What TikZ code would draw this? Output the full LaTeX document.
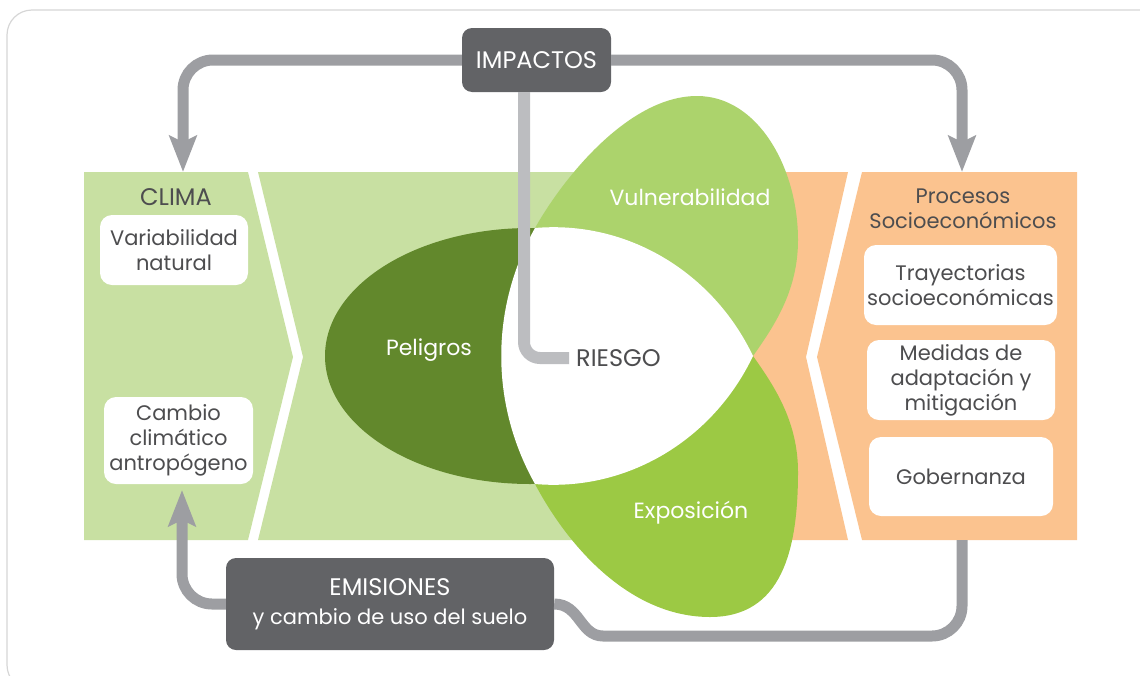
\documentclass[tikz,border=0pt]{standalone}
\usepackage{fontspec}
\setmainfont{Poppins}
\usetikzlibrary{arrows.meta}

\definecolor{climagreen}{HTML}{C8E0A2}
\definecolor{peligrogreen}{HTML}{62882C}
\definecolor{vulngreen}{HTML}{ACD36C}
\definecolor{expogreen}{HTML}{9CC944}
\definecolor{socioorange}{HTML}{FBC38F}
\definecolor{boxgray}{HTML}{626366}
\definecolor{linkgray}{HTML}{9D9EA2}
\definecolor{riskgray}{HTML}{BCBDC0}
\definecolor{txtgray}{HTML}{4D4D4F}
\definecolor{framegray}{HTML}{D6D6D6}

\begin{document}
\begin{tikzpicture}[x=1pt, y=-1pt,
    every node/.style={font=\fontsize{21}{25}\selectfont, align=center},
    caps/.style={font=\fontsize{24}{29}\selectfont},
    whitebox/.style={fill=white, rounded corners=12pt, text=txtgray, inner sep=0pt},
    darkbox/.style={fill=boxgray, rounded corners=10pt, text=white, inner sep=0pt},
    lobetext/.style={text=white, font=\fontsize{22}{26}\selectfont},
    link/.style={draw=linkgray, line width=11pt},
    riskline/.style={draw=riskgray, line width=12pt, rounded corners=16pt},
    tip/.style={-{Stealth[length=36pt, width=27pt, inset=6pt]}}]
			\useasboundingbox (0,0) rectangle (1140,675);
			% Frame
			\draw[framegray, line width=1.2pt, rounded corners=25pt] (7,10) rectangle (1170,690);
			% Panels
			\fill[climagreen] (84,172) -- (248,172) -- (293,357) -- (248,540) -- (84,540) -- cycle;
			\fill[climagreen] (258,172) -- (748,172) -- (748,540) -- (258,540) -- (303,357) -- cycle;
			\fill[socioorange] (748,172) -- (848,172) -- (806,357) -- (848,540) -- (748,540) -- cycle;
			\fill[socioorange] (862,172) -- (1077,172) -- (1077,540) -- (862,540) -- (817,357) -- cycle;
			% Lobes
			\fill[peligrogreen] (530,356) ellipse [x radius=205pt, y radius=128pt];
			\fill[vulngreen] (535,228) .. controls (565,175) and (630,96) .. (697,96) .. controls (758,96) and (798,168) .. (798,240) .. controls (798,290) and (775,325) .. (753,356) -- cycle;
			\fill[expogreen] (535,484) .. controls (570,550) and (632,617) .. (710,617) .. controls (782,617) and (798,550) .. (798,472) .. controls (798,422) and (775,387) .. (753,356) -- cycle;
			% Riesgo
			\fill[white] (535,228) .. controls (627,220) and (713,272) .. (753,356) .. controls (713,440) and (627,492) .. (535,484) .. controls (490,404) and (490,308) .. (535,228) -- cycle;
			% Lobe labels
			\node[lobetext] (peligros) at (429,350) {Peligros};
			\node[lobetext] (vulnerabilidad) at (690,197) {Vulnerabilidad};
			\node[lobetext] (exposicion) at (691,513) {Exposición};
			\node[caps, text=txtgray, anchor=west, inner sep=0pt] (riesgo) at (576,358) {RIESGO};
			% Clima
			\node[caps, text=txtgray] (clima) at (176,197) {CLIMA};
			\node[whitebox, minimum width=148pt, minimum height=70pt] (variabilidad) at (174,250) {Variabilidad\\natural};
			\node[whitebox, minimum width=149pt, minimum height=87pt] (cambio) at (178.5,440.5) {Cambio\\climático\\antropógeno};
			% Procesos socioeconomicos
			\node[text=txtgray] (procesos) at (963,209) {Procesos\\Socioeconómicos};
			\node[whitebox, minimum width=193pt, minimum height=80pt] (trayectorias) at (960.5,285) {Trayectorias\\socioeconómicas};
			\node[whitebox, minimum width=188pt, minimum height=80pt] (medidas) at (961,380) {Medidas de\\adaptación y\\mitigación};
			\node[whitebox, minimum width=184pt, minimum height=79pt] (gobernanza) at (961,476.5) {Gobernanza};
			% Impactos and emisiones
			\node[darkbox, caps, minimum width=149pt, minimum height=64pt] (impactos) at (536.5,60) {IMPACTOS};
			\node[darkbox, minimum width=328pt, minimum height=92pt, font=\fontsize{21}{29}\selectfont] (emisiones) at (390,604) {{\fontsize{24}{29}\selectfont EMISIONES}\\y cambio de uso del suelo};
			% Arrow ends
			\coordinate (climatop) at (183,172);
			\coordinate (climabot) at (182,490);
			\coordinate (sociotop) at (962,172);
			\coordinate (sociobot) at (962,540);
			\coordinate (bend) at (603,636);
			% Arrows
			\draw[link, tip, rounded corners=30pt] (impactos.west) -| (climatop);
			\draw[link, tip, rounded corners=30pt] (impactos.east) -| (sociotop);
			\draw[link, tip, rounded corners=30pt] (emisiones.west) -| (climabot);
			\draw[link] (emisiones.east) .. controls (580,604) and (580,636) .. (bend) [rounded corners=30pt] -| (sociobot);
			\draw[riskline, shorten >=7pt] ([xshift=-12.5pt]impactos.south) |- (riesgo.west);
		\end{tikzpicture}
\end{document}
